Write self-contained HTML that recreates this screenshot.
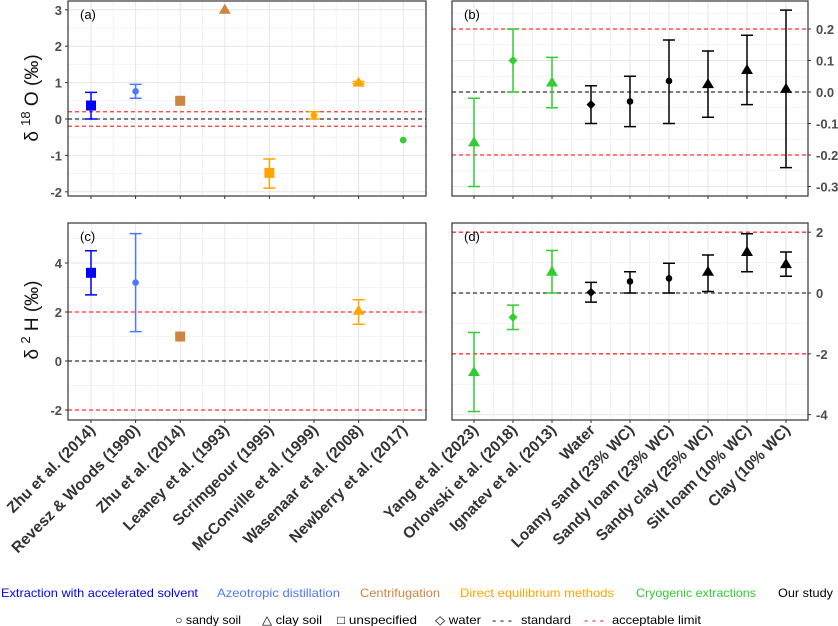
<!DOCTYPE html>
<html><head><meta charset="utf-8"><style>
body{margin:0;background:#fff;width:838px;height:626px;overflow:hidden;font-family:"Liberation Sans",sans-serif}
svg{display:block}
</style></head><body>
<svg id="chart" width="838" height="626" xmlns="http://www.w3.org/2000/svg"></svg>
<script>
const litCats = ["Zhu et al. (2014)","Revesz & Woods (1990)","Zhu et al. (2014)","Leaney et al. (1993)","Scrimgeour (1995)","McConville et al. (1999)","Wasenaar et al. (2008)","Newberry et al. (2017)"];
const litColors = ["#0000ff","#4d79ff","#cd853f","#cd853f","#ffa500","#ffa500","#ffa500","#33cc33"];
const litShapes = ["square","circle","square","triangle","square","circle","triangle","circle"];
const aVal = [0.37,0.76,0.5,3.0,-1.48,0.1,1.0,-0.58];
const aLo  = [0,0.57,null,null,-1.9,0,0.97,null];
const aHi  = [0.73,0.95,null,null,-1.1,0.2,1.03,null];
const cVal = [3.6,3.2,1.0,null,null,null,2.05,null];
const cLo  = [2.7,1.2,null,null,null,null,1.5,null];
const cHi  = [4.5,5.2,null,null,null,null,2.5,null];
const ourCats = ["Yang et al. (2023)","Orlowski et al. (2018)","Ignatev et al. (2013)","Water","Loamy sand (23% WC)","Sandy loam (23% WC)","Sandy clay (25% WC)","Silt loam (10% WC)","Clay (10% WC)"];
const ourColors = ["#33cc33","#33cc33","#33cc33","#000","#000","#000","#000","#000","#000"];
const ourShapes = ["triangle","diamond","triangle","diamond","circle","circle","triangle","triangle","triangle"];
const bVal = [-0.16,0.1,0.03,-0.04,-0.03,0.035,0.025,0.07,0.01];
const bLo  = [-0.3,0,-0.05,-0.1,-0.11,-0.1,-0.08,-0.04,-0.24];
const bHi  = [-0.02,0.2,0.11,0.02,0.05,0.165,0.13,0.18,0.26];
const dVal = [-2.6,-0.8,0.7,0.02,0.38,0.48,0.7,1.35,0.95];
const dLo  = [-3.9,-1.2,0,-0.3,0,0,0.05,0.7,0.55];
const dHi  = [-1.3,-0.4,1.4,0.35,0.7,0.98,1.25,1.95,1.35];
const aTicks=[-2,-1,0,1,2,3], bTicks=[-0.3,-0.2,-0.1,0.0,0.1,0.2], cTicks=[-2,0,2,4], dTicks=[-4,-2,0,2];

const NS="http://www.w3.org/2000/svg", svg=document.getElementById('chart');
function el(t,a,p){const e=document.createElementNS(NS,t);for(const k in a)e.setAttribute(k,a[k]);(p||svg).appendChild(e);return e;}

function panel(name,L,R,T,B,y0v,y0p,ppu,cats,x0,dx,ticks,tickFmt,right,limit,vals,lo,hi,colors,shapes,tag){
  const g=el('g',{});
  
  
  const ys=v=>y0p-(v-y0v)*ppu, xs=i=>x0+i*dx;
  const minVals=[]; for(let k=0;k<ticks.length-1;k++)minVals.push((ticks[k]+ticks[k+1])/2);
  minVals.push(ticks[ticks.length-1]+(ticks[1]-ticks[0])/2); minVals.unshift(ticks[0]-(ticks[1]-ticks[0])/2);
  minVals.forEach(v=>{const y=ys(v);if(y>T&&y<B)el('line',{x1:L,x2:R,y1:y,y2:y,stroke:'#f3f3f3','stroke-width':1},g);});
  for(let i=0;i<cats.length-1;i++){const x=xs(i)+dx/2;el('line',{x1:x,x2:x,y1:T,y2:B,stroke:'#f3f3f3'},g);}
  ticks.forEach(v=>{const y=ys(v);el('line',{x1:L,x2:R,y1:y,y2:y,stroke:'#e6e6e6'},g);
    const tx=right?R+8:L-6;
    el('line',{x1:right?R:L-3,x2:right?R+3:L,y1:y,y2:y,stroke:'#333'},g);
    const t=el('text',{x:tx,y:y+5,'font-size':13,'font-weight':'bold',fill:'#4d4d4d','text-anchor':right?'start':'end'},g);
    t.textContent=tickFmt(v);
    
    
  });
  cats.forEach((c,i)=>{const x=xs(i);el('line',{x1:x,x2:x,y1:T,y2:B,stroke:'#e6e6e6'},g);el('line',{x1:x,x2:x,y1:B,y2:B+3,stroke:'#333'},g);});
  [[0,'#333']].concat([[limit,'#ff3333'],[-limit,'#ff3333']]).forEach(([v,c])=>{const y=ys(v);if(y>=T-1&&y<=B)
    {const ln=el('line',{x1:L,x2:R,y1:y,y2:y,stroke:c,'stroke-width':1.3,'stroke-dasharray':'4,3'},g);
    
    }});
  const lbl=el('text',{x:L+12,y:T+18,'font-size':13,fill:'#000'},g);lbl.textContent=tag;
  
  
  vals.forEach((v,i)=>{if(v===null)return;const x=xs(i),c=colors[i];
    if(lo[i]!==null){const y1=ys(lo[i]),y2=ys(hi[i]);
      const eb=el('path',{d:`M${x},${y1}V${y2}M${x-6},${y1}H${x+6}M${x-6},${y2}H${x+6}`,stroke:c,'stroke-width':1.5,fill:'none'},g);
      
      }
    const y=ys(v);let m;const s=shapes[i];
    if(s==='square')m=el('rect',{x:x-5,y:y-5,width:10,height:10,fill:c},g);
    else if(s==='circle')m=el('circle',{cx:x,cy:y,r:3.3,fill:c},g);
    else if(s==='triangle')m=el('path',{d:`M${x},${y-6}L${x+6},${y+4}L${x-6},${y+4}Z`,fill:c},g);
    else m=el('path',{d:`M${x},${y-4.5}L${x+4.5},${y}L${x},${y+4.5}L${x-4.5},${y}Z`,fill:c},g);
    
    
  });
  el('rect',{x:L,y:T,width:R-L,height:B-T,fill:'none',stroke:'#333','stroke-width':1.2},g);
  return xs;
}
const fmt0=v=>String(v), fmt1=v=>v.toFixed(1);
panel('panel-a',68,426,1,196,0,119,36.4,litCats,91,44.6,aTicks,fmt0,false,0.2,aVal,aLo,aHi,litColors,litShapes,'(a)');
panel('panel-b',452,808,1,196,0,92,315,ourCats,474,39,bTicks,fmt1,true,0.2,bVal,bLo,bHi,ourColors,ourShapes,'(b)');
panel('panel-c',68,426,223,420,0,361,24.5,litCats,91,44.6,cTicks,fmt0,false,2,cVal,cLo,cHi,litColors,litShapes,'(c)');
panel('panel-d',452,808,223,420,0,293,30.4,ourCats,474,39,dTicks,fmt0,true,2,dVal,dLo,dHi,ourColors,ourShapes,'(d)');

function xlabels(cats,x0,dx,name){cats.forEach((c,i)=>{const x=x0+i*dx+5,y=431;
  const t=el('text',{x:x,y:y,'font-size':15.5,'font-weight':'bold',fill:'#333','text-anchor':'end',transform:`rotate(-45 ${x} ${y})`});
  t.textContent=c;
  
  });}
xlabels(litCats,91,44.6,'x-label-literature');
xlabels(ourCats,474,39,'x-label-our-study');

function ylab(cx,cy,sup,letter,name){const t=el('text',{x:cx,y:cy,'font-size':19,fill:'#111','text-anchor':'middle',transform:`rotate(-90 ${cx} ${cy})`});
  t.innerHTML=`δ <tspan font-size="13" dy="-8">${sup}</tspan><tspan dy="8"> ${letter} (‰)</tspan>`;
  
  }
ylab(38,98,'18','O','y-axis-title-d18o');
ylab(38,320,'2','H','y-axis-title-d2h');

const legItems=[["Extraction with accelerated solvent","#0000ff",0,197],["Azeotropic distillation","#4d79ff",216,123],["Centrifugation","#cd853f",359,80],["Direct equilibrium methods","#ffa500",459,154],["Cryogenic extractions","#33cc33",635,120],["Our study","#000",777,55]];
legItems.forEach(([t,c,x,w])=>{const e=el('text',{x:x+1,y:597,'font-size':12,fill:c,textLength:w,lengthAdjust:'spacingAndGlyphs'});e.textContent=t;
  
  });
const shapeLeg=[["○ sandy soil",175,66],["△ clay soil",262,60],["□ unspecified",337,80],["◇ water",435,46],["- - -",492,20],["standard",521,50],["acceptable limit",612,89]];
shapeLeg.forEach(([t,x,w])=>{const e=el('text',{x:x,y:624,'font-size':12,fill:'#000',textLength:w,lengthAdjust:'spacingAndGlyphs'});e.textContent=t;
  
  });
const rd=el('text',{x:584,y:624,'font-size':12,fill:'#ff0000',textLength:20,lengthAdjust:'spacingAndGlyphs'});rd.textContent='- - -';


</script>
</body></html>
